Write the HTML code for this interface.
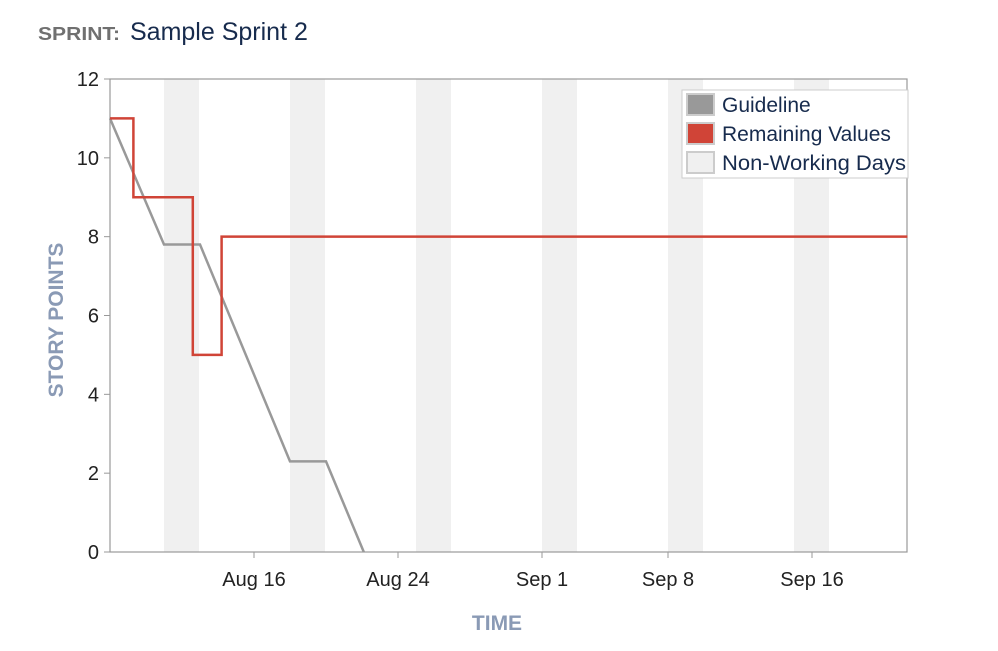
<!DOCTYPE html>
<html><head><meta charset="utf-8"><style>
body{margin:0;background:#fff;width:998px;height:646px;overflow:hidden;font-family:"Liberation Sans",sans-serif;}
</style></head><body>
<svg width="998" height="646" xmlns="http://www.w3.org/2000/svg">
<text x="38" y="40" font-size="18" font-weight="bold" fill="#707070" textLength="82" lengthAdjust="spacingAndGlyphs">SPRINT:</text>
<text x="130" y="40" font-size="25" fill="#172b4d">Sample Sprint 2</text>
<g id="bands"></g>
<rect x="110" y="79" width="797" height="473" fill="none" stroke="#999" stroke-width="1.2"/>
<g id="yaxis"></g><g id="xaxis"></g><g id="series"></g>
<text transform="translate(63,320) rotate(-90)" text-anchor="middle" font-size="21" font-weight="bold" fill="#8a9ab5">STORY POINTS</text>
<text x="497" y="630" text-anchor="middle" font-size="21" font-weight="bold" fill="#8a9ab5">TIME</text>
<g>
<rect x="682" y="90" width="226" height="88" fill="#fff" stroke="#ccc"/>
<g><rect x="687" y="94" width="27" height="21" fill="#999" stroke="#ccc" stroke-width="2"/><text x="722" y="112" font-size="21" fill="#172b4d">Guideline</text></g>
<g><rect x="687" y="123" width="27" height="21" fill="#d04437" stroke="#ccc" stroke-width="2"/><text x="722" y="141" font-size="21" fill="#172b4d">Remaining Values</text></g>
<g><rect x="687" y="152" width="27" height="21" fill="#f0f0f0" stroke="#ccc" stroke-width="2"/><text x="722" y="170" font-size="21" fill="#172b4d" textLength="184" lengthAdjust="spacingAndGlyphs">Non-Working Days</text></g>
</g>
</svg>
<script>
const yTicks=[0,2,4,6,8,10,12];
const xTickDays=[8,16,24,31,39];
const xTickLabels=["Aug 16","Aug 24","Sep 1","Sep 8","Sep 16"];
const nonWorkStart=[3,10,17,24,31,38];
const nonWorkLen=2;
const guideDays=[0,3,5,10,12,14.1];
const guideVals=[11,7.8,7.8,2.3,2.3,0];
const remDays=[0,1.3,4.6,6.2,44.3];
const remVals=[11,9,5,8,8];
const NS="http://www.w3.org/2000/svg";
const X=d=>110+d*18, Y=v=>552-v*473/12;
function mk(t,a,p){const e=document.createElementNS(NS,t);for(const k in a)e.setAttribute(k,a[k]);p.appendChild(e);return e;}
const bands=document.getElementById('bands');
nonWorkStart.forEach((d,i)=>{const r=mk('rect',{x:X(d),y:79,width:X(d+nonWorkLen)-X(d)-1,height:473,fill:'#f0f0f0'},bands);

});
const ya=document.getElementById('yaxis');
yTicks.forEach(v=>{mk('line',{x1:104,x2:110,y1:Y(v),y2:Y(v),stroke:'#999'},ya);
const t=mk('text',{x:99,y:Y(v)+7,'text-anchor':'end','font-size':20,fill:'#222'},ya);t.textContent=v;

});
const xa=document.getElementById('xaxis');
xTickDays.forEach((d,i)=>{mk('line',{x1:X(d),x2:X(d),y1:552,y2:558,stroke:'#999'},xa);
const t=mk('text',{x:X(d),y:586,'text-anchor':'middle','font-size':20,fill:'#222'},xa);t.textContent=xTickLabels[i];

});
const s=document.getElementById('series');
const gp=guideDays.map((d,i)=>X(d)+','+Y(guideVals[i])).join(' ');
const g=mk('polyline',{points:gp,fill:'none',stroke:'#999','stroke-width':2.5},s);


let rp=[];remDays.forEach((d,i)=>{if(i>0)rp.push(X(d)+','+Y(remVals[i-1]));rp.push(X(d)+','+Y(remVals[i]));});
const r=mk('polyline',{points:rp.join(' '),fill:'none',stroke:'#d04437','stroke-width':2.5},s);


</script>
</body></html>
